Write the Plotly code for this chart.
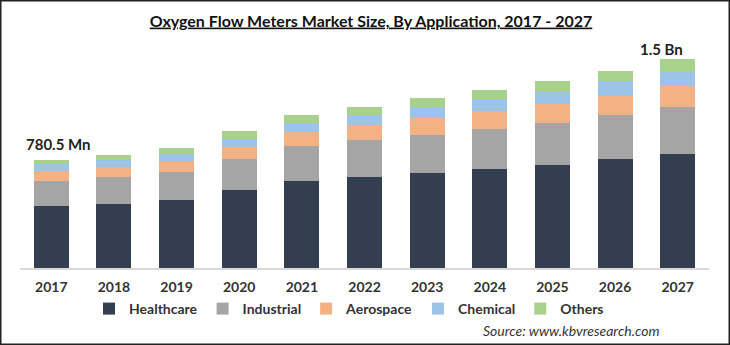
import plotly.graph_objects as go

years = ["2017", "2018", "2019", "2020", "2021", "2022", "2023", "2024", "2025", "2026", "2027"]
healthcare = [449.5, 463.7, 489.6, 559.4, 623.5, 657.4, 686.2, 715.0, 744.5, 782.6, 823.0]
industrial = [177.0, 191.5, 199.4, 228.2, 252.0, 264.2, 273.6, 288.0, 302.4, 319.0, 338.4]
aerospace = [70.0, 72.0, 81.4, 83.5, 100.8, 110.2, 120.2, 124.6, 133.9, 139.0, 146.9]
chemical = [55.5, 53.3, 53.3, 60.5, 67.7, 72.0, 76.3, 91.4, 86.4, 103.7, 105.1]
others = [28.5, 33.1, 38.2, 52.6, 54.7, 57.6, 67.7, 64.8, 77.0, 76.3, 91.4]

series = [
    ("Healthcare", healthcare, "#333F50"),
    ("Industrial", industrial, "#A5A5A5"),
    ("Aerospace", aerospace, "#F4B183"),
    ("Chemical", chemical, "#9DC3E6"),
    ("Others", others, "#A9D18E"),
]

fig = go.Figure()
for name, vals, col in series:
    fig.add_trace(go.Bar(x=years, y=vals, name=name, marker=dict(color=col, line=dict(width=0)),
                         width=0.56))

W, H = 730, 345
L, R, T, B = 20, 21, 40, 77
pw, ph = W - L - R, H - T - B


def px(xp):
    return (xp - L) / pw


def py(yp):
    return (H - B - yp) / ph


fig.update_layout(
    width=W, height=H,
    barmode="stack",
    margin=dict(l=L, r=R, t=T, b=B, pad=0, autoexpand=False),
    paper_bgcolor="white", plot_bgcolor="white",
    font=dict(family="Lato", color="#333333"),
    title=dict(text="Oxygen Flow Meters Market Size, By Application, 2017 - 2027",
               x=371 / W, xanchor="center", y=1 - 21 / H, yanchor="middle",
               font=dict(family="Lato", size=16, weight="bold", color="#111111", lineposition="under")),
    xaxis=dict(type="category", range=[-0.5, len(years) - 0.5], showgrid=False, showline=True,
               linecolor="#D9D9D9", linewidth=1.5,
               ticks="", tickfont=dict(family="Lato", size=14, weight="bold", color="#333333"),
               ticklabelstandoff=5, fixedrange=True),
    yaxis=dict(range=[0, ph * 7.2], showgrid=False, showticklabels=False, zeroline=False,
               showline=False, fixedrange=True),
    legend=dict(orientation="h", x=px(349), xanchor="center",
                y=py(309), yanchor="middle",
                font=dict(family="Lato", size=14, weight="bold", color="#333333"),
                traceorder="normal", itemwidth=30, itemclick=False),
    showlegend=True,
)

totals = [sum(v) for v in zip(healthcare, industrial, aerospace, chemical, others)]
fig.add_annotation(x=0, y=totals[0], text="<b>780.5 Mn</b>", showarrow=False,
                   xanchor="center", yanchor="bottom", xshift=7, yshift=5,
                   font=dict(family="Lato", size=15, color="#222222"))
fig.add_annotation(x=len(years) - 1, y=totals[-1], text="<b>1.5 Bn</b>", showarrow=False,
                   xanchor="center", yanchor="bottom", xshift=-16, yshift=-1,
                   font=dict(family="Lato", size=15, color="#222222"))
fig.add_annotation(x=px(571), xref="paper", y=py(330), yref="paper",
                   text="<i>Source: www.kbvresearch.com</i>", showarrow=False,
                   xanchor="center", yanchor="middle",
                   font=dict(family="Lato", size=14, color="#333333"))

# frame
fig.add_shape(type="rect", xref="paper", yref="paper",
              x0=px(0.75), x1=px(W - 0.75),
              y0=py(H - 0.75), y1=py(0.75),
              line=dict(color="#222222", width=1.5), fillcolor="rgba(0,0,0,0)", layer="above")

fig.write_html("out.html")
